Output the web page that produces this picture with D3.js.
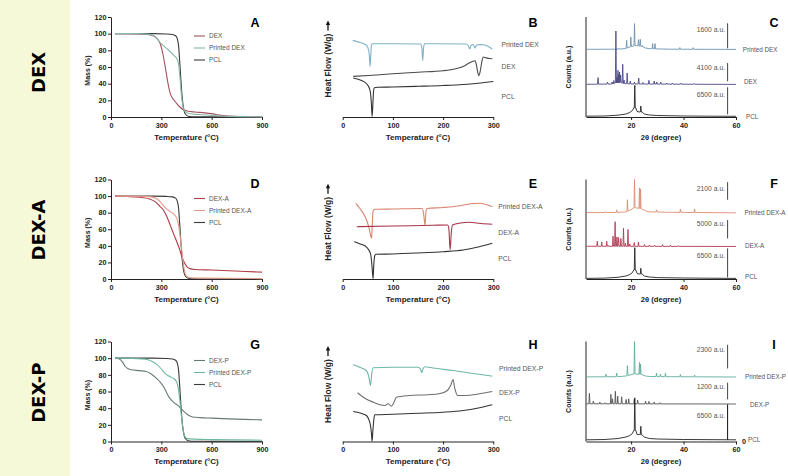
<!DOCTYPE html>
<html><head><meta charset="utf-8">
<script src="https://cdn.jsdelivr.net/npm/d3@7"></script>
<style>body{margin:0;background:#fff}svg{display:block}</style>
</head><body><svg id="c" width="788" height="476"></svg>
<script>
// ---------------- DATA ----------------
const rowNames = ["DEX", "DEX-A", "DEX-P"];
const panelLetters = [["A","B","C"],["D","E","F"],["G","H","I"]];
const tgaXTicks = [0, 300, 600, 900];
const tgaYTicks = [0, 20, 40, 60, 80, 100, 120];
const dscXTicks = [0, 100, 200, 300];
const xrdXTicks = [20, 40, 60];

const tgaNames = [["DEX","Printed DEX","PCL"],["DEX-A","Printed DEX-A","PCL"],["DEX-P","Printed DEX-P","PCL"]];
const dscNames = [["Printed DEX","DEX","PCL"],["Printed DEX-A","DEX-A","PCL"],["Printed DEX-P","DEX-P","PCL"]];
const xrdNames = dscNames;

// TGA: [temperature °C, mass %]
const tgaPCL = [[25,100],[250,100],[330,99.6],[365,99],[385,97.5],[395,94],[403,85],[410,65],[418,40],[426,20],[435,8],[445,3],[460,1],[500,0.3],[900,0]];
const tgaDEX = [[25,100],[100,100],[200,99.3],[250,97.5],[275,94],[295,87],[310,75],[325,58],[340,40],[352,29],[365,23],[385,18],[410,12],[435,8.5],[460,7],[500,6],[560,5],[600,4],[650,2.2],[700,1],[800,0.5],[900,0.3]];
const tgaPrintedDEX = [[25,100],[150,100],[220,99.5],[250,98],[270,95],[290,90],[310,86],[333,82],[355,78],[375,74],[395,69],[405,60],[413,42],[422,22],[432,10],[445,6],[470,4],[520,3],[600,2],[700,0.7],[900,0.2]];
const tgaDEXA = [[25,100],[100,99.5],[170,98.5],[230,96.5],[265,93],[290,88],[313,83],[333,75],[353,65],[372,55],[392,45],[407,37],[422,27],[437,20],[452,15],[470,12.5],[500,11.5],[600,10.8],[700,10],[800,9],[900,8.3]];
const tgaPrintedDEXA = [[25,100],[200,99.7],[240,99],[270,97],[295,93],[315,88],[335,84],[355,81],[375,78],[390,74],[400,68],[410,55],[420,38],[430,20],[440,8],[452,3],[470,1.5],[520,1],[900,0.5]];
const tgaDEXP = [[25,100],[50,99],[70,95],[85,90],[100,87.5],[120,86],[170,85],[210,84],[240,81],[265,77],[290,72],[313,66],[333,58],[350,52],[373,47],[400,43],[420,39],[442,34.7],[462,31.5],[485,29.5],[530,28.6],[600,28],[700,27.2],[800,26.5],[900,26]];
const tgaPrintedDEXP = [[25,100],[130,99.8],[180,99.2],[215,98.3],[245,96],[273,92.5],[300,87],[320,82],[345,78.5],[370,76],[390,72],[400,65],[410,50],[420,30],[430,14],[440,6],[455,3.5],[500,2.8],[600,2.3],[900,1.5]];

// DSC: [temperature °C, heat flow (arbitrary, offset)]
const dscPCL_B = [[21,39],[35,37],[47,33.5],[52,30],[55,25],[57,15],[58.6,0.5],[60,12],[61.5,26],[63,29.3],[70,29.8],[100,30],[150,30.7],[200,31.5],[240,32.5],[270,33.8],[300,35.5]];
const dscDEX_B = [[21,40.6],[60,41.8],[100,43.3],[150,44.8],[200,46.3],[225,48.3],[240,50.6],[252,54],[259,55.8],[263.6,56.3],[266,53],[268.5,46],[271,41.3],[274,46],[277,55],[280,60],[285,59.3],[292,58.5],[298,58.3]];
const dscPrinted_B = [[20,76.6],[35,74.5],[45,72.5],[50,69.5],[53,62],[54.5,50.6],[56,62],[57.5,72.5],[60,73.3],[100,73.3],[155,73],[157.5,70],[159.4,56.3],[161.3,70],[163.5,73.3],[245,73],[250,71.5],[253,68],[256,72],[260,72.5],[263.6,69],[267,72],[275,72.4],[283,72],[290,70.5],[298,68]];
const dscPCL_E = [[23,37.3],[35,35],[45,33],[52,29],[56,24],[58.5,12],[60.5,0.3],[62,15],[64,23.5],[66,24.7],[100,25],[150,26],[200,27.3],[240,29],[270,32],[298,35.7]];
const dscDEXA_E = [[28,52.3],[100,53],[180,53.7],[209,54],[211.5,50],[214,29.3],[216.3,46],[218.6,54],[235,56],[252,56.7],[275,55.5],[298,54.7]];
const dscPrinted_E = [[26,75.7],[35,70],[45,62],[52,52],[56,43],[57.5,40.7],[59,55],[60.5,68],[64,69.7],[100,70],[158,70.5],[161,66],[164,54],[166,68],[168,70.5],[200,71.5],[230,73],[255,75.3],[272,75.7],[285,74.5],[298,72.3]];
const dscPCL_H = [[21,30],[35,28.5],[47.3,26],[52,22],[55,17],[57.3,8],[58.6,0.3],[60,10],[62,22],[64,26.7],[100,27.2],[150,28.2],[199,29.3],[240,31],[270,33.5],[298,36.7]];
const dscDEXP_H = [[29.6,48.7],[45,43],[60.7,39.3],[74,36.7],[84,36],[90.5,37.7],[97,35.3],[102,39],[106.8,44.3],[133,46],[170,46.8],[192,47.7],[208.6,51],[215,56],[220,62],[222.5,55],[224.5,51],[228.6,46],[245,46],[270,47.5],[298,50]];
const dscPrinted_H = [[21,76.7],[35,74],[47,71],[52,65],[55.4,56],[57.5,66],[60.7,73.7],[100,74.3],[150,74.3],[155,72.5],[157.5,68.7],[160,72.5],[163,74.8],[180,73.5],[220,71],[260,68],[298,65.3]];

// XRD: baselines and peaks, [2θ degree, counts (a.u., stacked)]
const xrdPCLBase_C = [[3,0.8],[10,1],[15,1.8],[18,3],[19.5,4.5],[20.5,6.5],[21,9],[21.8,9],[22.3,5.5],[23.2,5],[24.2,5],[25,3],[27,2],[30,1.5],[40,1],[50,0.8],[60,0.7]];
const xrdPCLPeaks_C = [[21.4,31.7],[23.7,11]];
const xrdDEXBase_C = [[3,32.7],[13,33],[14,34],[16,34.5],[17,33.5],[20,33],[60,32.6]];
const xrdDEXPeaks_C = [[7.4,39.4],[11,34.8],[12.8,35],[13.4,36.5],[14.2,86],[14.6,40],[15,46.7],[15.3,43],[15.6,45],[16,42],[16.8,52.7],[17.3,37],[18.5,44],[19.7,36],[21.3,35],[22.9,39],[24.5,34.5],[26.8,36.7],[28.8,36],[29.8,35],[31.3,35],[33.6,34],[35.8,34],[39,33.8],[44,33.5]];
const xrdPrintedBase_C = [[3,67.7],[15,67.8],[18,68.5],[19.5,70],[21,71],[22,71.5],[24,70.5],[25.5,69],[27,68.3],[35,67.8],[60,67.6]];
const xrdPrintedPeaks_C = [[15.2,68.8],[18.3,76.7],[19.9,80],[21.3,93.4],[22.8,77.4],[23.5,77.7],[24.3,71.5],[28.2,73.4],[29.1,73.4],[38.6,69.4],[43.7,69.4]];

const xrdPCLBase_F = [[3,0.6],[10,0.9],[15,1.7],[18,3],[19.5,4.5],[20.5,6.5],[21,9],[21.8,9],[22.3,5.5],[23.2,5],[24.2,5],[25,3],[27,2],[30,1.4],[40,1],[50,0.8],[60,0.6]];
const xrdPCLPeaks_F = [[21.4,31.5],[23.7,10.8]];
const xrdDEXABase_F = [[3,32.9],[60,32.7]];
const xrdDEXAPeaks_F = [[7.1,38],[8.8,37.2],[10.7,38],[11.2,34],[13.1,43],[13.9,57.6],[14.6,42.3],[15.2,41.7],[16.1,40.7],[17.1,50.9],[17.8,36],[18.8,49.8],[19.5,35],[21.2,36.6],[22.8,37.2],[25.1,34.6],[27,34.3],[29,34],[32,34.5],[35,34],[38,33.6]];
const xrdPrintedBase_F = [[3,66.7],[15,66.9],[18,67.5],[19.5,69],[21,71.5],[22,71.5],[24,70.5],[25.5,68.5],[27,67.5],[35,67],[60,66.5]];
const xrdPrintedPeaks_F = [[10.3,67.7],[14.5,69.5],[18.6,79.7],[21.3,100],[23.2,91.6],[23.6,90.5],[29.7,69.5],[38.8,70.2],[44.2,70.5]];

const xrdPCLBase_I = [[3,1.7],[10,2],[15,3],[18,4.5],[19.5,6],[20.5,8],[21,11],[21.8,11],[22.3,7],[23.2,7],[24.2,6.5],[25,4.5],[27,3],[30,2.5],[40,2],[60,1.7]];
const xrdPCLPeaks_I = [[21.4,43.7],[23.7,15.2]];
const xrdDEXPBase_I = [[3,37.7],[60,37.5]];
const xrdDEXPPeaks_I = [[4.1,48.2],[5.6,40.4],[8.1,39.4],[10,38.7],[12.3,47.2],[12.9,42.7],[14,50.2],[14.9,45.5],[16.4,44.7],[18.1,42.1],[19.1,42.7],[21.2,42.1],[22.5,41.4],[25.5,40.4],[26.8,40.1],[28.8,39.4],[31,38.8]];
const xrdPrintedBase_I = [[3,64.6],[15,64.8],[18,65.5],[19.5,66.5],[21,67.5],[22,67.5],[24,67],[25.5,65.5],[27,65],[35,64.8],[60,64.5]];
const xrdPrintedPeaks_I = [[10.4,67.4],[14.5,68.4],[18.6,75.8],[21.3,100],[23.2,79.1],[23.6,77.5],[29.7,68.4],[31.2,67.4],[33.1,68.4],[38.8,67],[44.2,66.4]];

// XRD scale bars: [top, bottom] in counts units, and labels
const xrdBarLabels = [["1600 a.u.","4100 a.u.","6500 a.u."],["2100 a.u.","5000 a.u.","6500 a.u."],["2300 a.u.","1200 a.u.","6500 a.u."]];
const xrdBars = [[[93.7,68.7],[54,35.7],[29.7,2.7]],[[97.3,79.7],[59.3,40.7],[30.8,1.6]],[[96.7,73],[58.9,42.1],[37.1,1.7]]];

// ---------------- LAYOUT / STYLE ----------------
const F = "'Liberation Sans', Arial, Helvetica, sans-serif";
const rows = [
  {top:17, bottom:117, nameY:72.5, letterY:27, dscLab:[72.3,50.3,20.3], xrdLab:[[742.7,51.5],[744,83.5],[746,119]], xrdLabU:[87.7,49.7,22.7]},
  {top:179.5, bottom:279, nameY:230, letterY:188, dscLab:[72.3,46.7,20], xrdLab:[[744.5,214.8],[745,247.5],[745,279]], xrdLabU:[90.8,55.2,23.7]},
  {top:341.5, bottom:441.5, nameY:392.7, letterY:349, dscLab:[72.7,49.3,23.3], xrdLab:[[745,378.5],[750,406.8],[748,441.5]], xrdLabU:[91.6,54.5,26.3]}
];
const tgaData = [[tgaDEX,tgaPrintedDEX,tgaPCL],[tgaDEXA,tgaPrintedDEXA,tgaPCL],[tgaDEXP,tgaPrintedDEXP,tgaPCL]];
const tgaColors = [["#a4505e","#86b9a7","#3a3a3a"],["#b23a48","#e49a88","#3a3a3a"],["#667a70","#6db89a","#3a3a3a"]];
const dscData = [[dscPrinted_B,dscDEX_B,dscPCL_B],[dscPrinted_E,dscDEXA_E,dscPCL_E],[dscPrinted_H,dscDEXP_H,dscPCL_H]];
const dscColors = [["#7fb2c6","#4a4a4a","#333"],["#d98570","#a8344a","#333"],["#6fb8a8","#6e6e6e","#333"]];
const xrdData = [
  [[xrdPrintedBase_C,xrdPrintedPeaks_C],[xrdDEXBase_C,xrdDEXPeaks_C],[xrdPCLBase_C,xrdPCLPeaks_C]],
  [[xrdPrintedBase_F,xrdPrintedPeaks_F],[xrdDEXABase_F,xrdDEXAPeaks_F],[xrdPCLBase_F,xrdPCLPeaks_F]],
  [[xrdPrintedBase_I,xrdPrintedPeaks_I],[xrdDEXPBase_I,xrdDEXPPeaks_I],[xrdPCLBase_I,xrdPCLPeaks_I]]
];
const xrdColors = [["#6d93b3","#4b4a85","#222"],["#dc8d72","#b33a55","#222"],["#5fae9c","#555","#222"]];

const svg = d3.select("#c");
svg.append("rect").attr("x",0).attr("y",0).attr("width",70).attr("height",476).attr("fill","#f5f9d8");

function styleAxis(g){
  g.select(".domain").attr("stroke","#222").attr("stroke-width",1);
  g.selectAll(".tick line").attr("stroke","#222");
  g.selectAll(".tick text").attr("font-family",F).attr("font-size",7.2).attr("font-weight","bold").attr("fill","#222");
}
function vText(x,y,txt,size,weight,fill,family){
  svg.append("text").attr("transform",`translate(${x},${y}) rotate(-90)`)
    .attr("text-anchor","middle").attr("dominant-baseline","central")
    .attr("font-family",family||F).attr("font-size",size).attr("font-weight",weight).attr("fill",fill).text(txt);
}
function hText(x,y,txt,size,weight,fill,anchor){
  svg.append("text").attr("x",x).attr("y",y).attr("text-anchor",anchor||"start")
    .attr("font-family",F).attr("font-size",size).attr("font-weight",weight).attr("fill",fill).text(txt);
}

rows.forEach((r,i)=>{
  // Row name
  vText(38.5, r.nameY, rowNames[i], 18, "bold", "#000", "'DejaVu Sans', Verdana, sans-serif");

  // ---- TGA ----
  const xT = d3.scaleLinear().domain([0,900]).range([111,262]);
  const yT = d3.scaleLinear().domain([0,120]).range([r.bottom,r.top]);
  svg.append("g").attr("transform",`translate(0,${r.bottom})`)
    .call(d3.axisBottom(xT).tickValues(tgaXTicks).tickSize(3).tickSizeOuter(0).tickPadding(2.5)).call(styleAxis);
  svg.append("g").attr("transform",`translate(111,0)`)
    .call(d3.axisLeft(yT).tickValues(tgaYTicks).tickSize(3).tickSizeOuter(0).tickPadding(1.5)).call(styleAxis);
  const lineT = d3.line().x(d=>xT(d[0])).y(d=>yT(d[1])).curve(d3.curveMonotoneX);
  [2,0,1].forEach(k=>{
    svg.append("path").attr("d",lineT(tgaData[i][k])).attr("fill","none")
      .attr("stroke",tgaColors[i][k]).attr("stroke-width",1.1);
  });
  tgaNames[i].forEach((n,k)=>{
    const ly = r.top + 19 + k*12;
    svg.append("line").attr("x1",194).attr("x2",205).attr("y1",ly).attr("y2",ly)
      .attr("stroke",tgaColors[i][k]).attr("stroke-width",1.1);
    hText(209, ly+2.3, n, 6.5, "normal", "#555");
  });
  vText(87, (r.top+r.bottom)/2+3.5, "Mass (%)", 7, "bold", "#222");
  hText(186.5, r.bottom+22.5, "Temperature (°C)", 8, "bold", "#222", "middle");
  hText(255, r.letterY, panelLetters[i][0], 12.5, "bold", "#000", "middle");

  // ---- DSC ----
  const xD = d3.scaleLinear().domain([0,300]).range([342.7,493.3]);
  const yD = d3.scaleLinear().domain([0,100]).range([r.bottom,r.bottom-100]);
  svg.append("g").attr("transform",`translate(0,${r.bottom})`)
    .call(d3.axisBottom(xD).tickValues(dscXTicks).tickSize(3).tickSizeOuter(0).tickPadding(2.5)).call(styleAxis);
  const lineD = d3.line().x(d=>xD(d[0])).y(d=>yD(d[1])).curve(d3.curveMonotoneX);
  dscData[i].forEach((s,k)=>{
    svg.append("path").attr("d",lineD(s)).attr("fill","none")
      .attr("stroke",dscColors[i][k]).attr("stroke-width",1.1);
    hText(i===1?498.3:(i===2?499:501.5), yD(r.dscLab[k])+2.4, dscNames[i][k], 6.8, "normal", "#555");
  });
  const hc = (r.top+r.bottom)/2 - 0.5 + (i===0?-1:0);
  vText(328, hc, "Heat Flow (W/g)", 8.5, "bold", "#222");
  const tip = hc - 45;
  svg.append("line").attr("x1",328).attr("x2",328).attr("y1",tip+3).attr("y2",tip+10)
    .attr("stroke","#111").attr("stroke-width",1.3);
  svg.append("path").attr("d",`M${328},${tip} L${325.8},${tip+4.5} L${330.2},${tip+4.5} Z`).attr("fill","#111");
  hText(418, r.bottom+22.5, "Temperature (°C)", 8, "bold", "#222", "middle");
  hText(533, r.letterY, panelLetters[i][1], 12.5, "bold", "#000", "middle");

  // ---- XRD ----
  const xX = d3.scaleLinear().domain([2.8,60]).range([586,736]);
  const yX = d3.scaleLinear().domain([0,100]).range([r.bottom,r.top]);
  svg.append("g").attr("transform",`translate(0,${r.bottom})`)
    .call(d3.axisBottom(xX).tickValues(xrdXTicks).tickSize(3).tickSizeOuter(0).tickPadding(2.5)).call(styleAxis);
  svg.append("line").attr("x1",586).attr("x2",586).attr("y1",r.top).attr("y2",r.bottom)
    .attr("stroke","#222").attr("stroke-width",1);
  const lineX = d3.line().x(d=>xX(d[0])).y(d=>yX(d[1]));
  xrdData[i].forEach(([base,peaks],k)=>{
    const bx = base.map(d=>d[0]), by = base.map(d=>d[1]);
    const bAt = d3.scaleLinear().domain(bx).range(by);
    const w = 0.2;
    const pts = base.filter(q=>!peaks.some(p=>Math.abs(p[0]-q[0])<w)).map(d=>[d[0],d[1]]);
    peaks.forEach(p=>{
      pts.push([p[0]-w, bAt(p[0]-w)], [p[0], p[1]], [p[0]+w, bAt(p[0]+w)]);
    });
    pts.sort((a,b)=>a[0]-b[0]);
    svg.append("path").attr("d",lineX(pts)).attr("fill","none")
      .attr("stroke",xrdColors[i][k]).attr("stroke-width",0.9).attr("stroke-linejoin","round");
    hText(r.xrdLab[k][0], r.xrdLab[k][1], xrdNames[i][k], 6.3, "normal", "#555");
  });
  xrdBars[i].forEach((b,k)=>{
    svg.append("line").attr("x1",xX(56.8)).attr("x2",xX(56.8)).attr("y1",yX(b[0])).attr("y2",yX(b[1]))
      .attr("stroke", k===2 && i===2 ? "#111" : "#444").attr("stroke-width",1);
    hText(xX(56.8)-2.5, yX(r.xrdLabU[k])+2.4, xrdBarLabels[i][k], 6.8, "normal", "#555", "end");
  });
  if(i===2){ hText(742, 444, "0", 7.2, "bold", "#222", "start"); }
  vText(568, (r.top+r.bottom)/2, "Counts (a.u.)", 7, "bold", "#222");
  hText(661, r.bottom+22.5, "2θ (degree)", 7.6, "bold", "#222", "middle");
  hText(774, r.letterY, panelLetters[i][2], 12.5, "bold", "#000", "middle");
});
</script></body></html>
